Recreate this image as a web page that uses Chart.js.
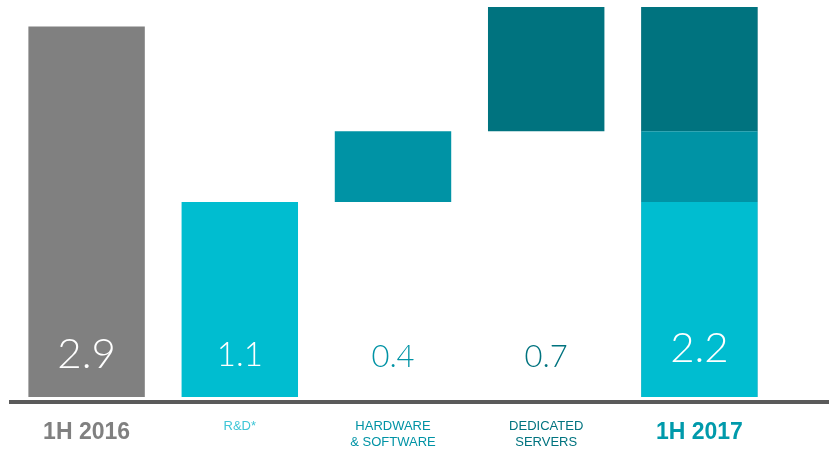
<!DOCTYPE html>
<html>
<head>
<meta charset="utf-8">
<script src="https://cdn.jsdelivr.net/npm/chart.js@4"></script>
<style>
  html, body { margin: 0; padding: 0; background: #fff; }
  #wrap { width: 829px; height: 449px; }
</style>
</head>
<body>
<div id="wrap"><canvas id="bridge"></canvas></div>
<script>
// categories and values of the bridge
const categories = ["1H 2016", "R&D*", ["HARDWARE", "& SOFTWARE"], ["DEDICATED", "SERVERS"], "1H 2017"];
const valueLabels = ["2.9", "1.1", "0.4", "0.7", "2.2"];
const start2016 = 2.9;
const start2016Shown = 2.09; // bar is drawn cut short in the picture
const rd = 1.1;
const hardware = 0.4;
const servers = 0.7;
const total2017 = 2.2;

const gray = "#808080";
const light = "#00bdd0";
const mid = "#0093a5";
const dark = "#00737f";

// steps of the bridge
const rdTop = rd;
const hwTop = rdTop + hardware;
const dsTop = hwTop + servers;

const labelColors = [gray, "#3ec6d6", mid, dark, "#009aab"];
const valueColors = ["#fff", "#fff", mid, dark, "#fff"];
const valueSizes = [42, 33, 31, 31, 42];
const valueOffsets = [29, 31, 30, 30, 35];

// axis line and value labels inside the bars
const bridgePlugin = {
    id: "bridge",
    afterDatasetsDraw(chart) {
        const ctx = chart.ctx;
        const y0 = chart.scales.y.getPixelForValue(0);
        ctx.save();
        ctx.fillStyle = "#5a5a5a";
        ctx.fillRect(chart.chartArea.left - 1, y0 + 3, chart.width, 4);
        ctx.textAlign = "center";
        ctx.textBaseline = "alphabetic";
        valueLabels.forEach((t, i) => {
            const x = chart.scales.x.getPixelForValue(i);
            ctx.font = "300 " + valueSizes[i] + "px Lato, 'Open Sans', sans-serif";
            ctx.fillStyle = valueColors[i];
            ctx.fillText(t, x, y0 - valueOffsets[i]);
        });
        ctx.restore();
    }
};

const ctx = document.getElementById("bridge");

new Chart(ctx, {
    type: "bar",
    data: {
        labels: categories,
        datasets: [{
            label: "1H 2016",
            data: [[0, start2016Shown], null, null, null, null],
            backgroundColor: gray
        }, {
            label: "R&D",
            data: [null, [0, rdTop], null, null, [0, rdTop]],
            backgroundColor: light
        }, {
            label: "Hardware & software",
            data: [null, null, [rdTop, hwTop], null, [rdTop, hwTop]],
            backgroundColor: mid
        }, {
            label: "Dedicated servers",
            data: [null, null, null, [hwTop, dsTop], [hwTop, dsTop]],
            backgroundColor: dark
        }, {
            label: "1H 2017",
            data: [null, null, null, null, [0, total2017]],
            backgroundColor: "rgba(0,0,0,0)",
            borderColor: "#8a90a2",
            borderWidth: 1,
            borderSkipped: false
        }]
    },
    options: {
        responsive: true,
        maintainAspectRatio: false,
        animation: false,
        layout: { padding: { left: 10, right: 53, top: 0, bottom: 0 } },
        datasets: { bar: { categoryPercentage: 1, barPercentage: 0.76 } },
        plugins: { legend: { display: false }, tooltip: { enabled: false } },
        scales: {
            x: {
                stacked: true,
                grid: { display: false, drawTicks: false },
                border: { display: false },
                afterFit: (scale) => { scale.height = 52; },
                ticks: {
                    padding: 22,
                    maxRotation: 0,
                    autoSkip: false,
                    color: (c) => labelColors[c.index],
                    font: (c) => (c.index === 0 || c.index === 4)
                        ? { family: "'Liberation Sans Narrow', sans-serif", size: 23, weight: "bold", lineHeight: 1.2 }
                        : { family: "'Liberation Sans Narrow', sans-serif", size: 13, lineHeight: 1.2 }
                }
            },
            y: {
                display: false,
                min: 0,
                max: 2.24
            }
        }
    },
    plugins: [bridgePlugin]
});
</script>
</body>
</html>
